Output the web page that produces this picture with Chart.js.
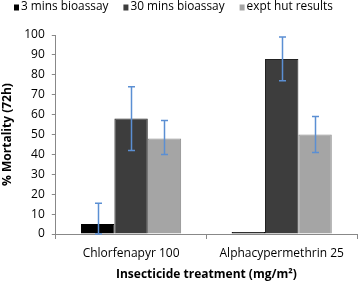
<!DOCTYPE html>
<html lang="en">
<head>
<meta charset="UTF-8">
<title>Mortality chart</title>
<style>
    html, body { margin: 0; padding: 0; background: #fff; }
    #wrap { width: 358px; height: 281px; }
</style>
</head>
<body>
<div id="wrap"><canvas id="chart"></canvas></div>
<script src="https://cdn.jsdelivr.net/npm/chart.js"></script>
<script>
    const categories = ['Chlorfenapyr 100', 'Alphacypermethrin 25'];
    const seriesNames = ['3 mins bioassay', '30 mins bioassay', 'expt hut results'];
    const mins3 = [5, 1];
    const mins30 = [58, 88];
    const hut = [48, 50];
    // error bar low / high
    const mins3Err = [[0, 15.5], null];
    const mins30Err = [[42, 74], [77, 99]];
    const hutErr = [[40, 57], [41, 59]];
    const yTicks = [0, 10, 20, 30, 40, 50, 60, 70, 80, 90, 100];

    const errs = [mins3Err, mins30Err, hutErr];

    const errorBars = {
        id: 'errorBars',
        afterDatasetsDraw(chart) {
            const ctx = chart.ctx;
            const y = chart.scales.y;
            ctx.save();
            ctx.strokeStyle = '#5b8fd3';
            ctx.lineWidth = 1.5;
            chart.data.datasets.forEach((ds, i) => {
                const meta = chart.getDatasetMeta(i);
                meta.data.forEach((bar, j) => {
                    const e = errs[i][j];
                    if (!e) return;
                    const x = Math.round(bar.x) + 0.5;
                    const y1 = y.getPixelForValue(e[0]);
                    const y2 = y.getPixelForValue(e[1]);
                    ctx.beginPath();
                    ctx.moveTo(x, y1); ctx.lineTo(x, y2);
                    ctx.moveTo(x - 3.5, y1); ctx.lineTo(x + 3.5, y1);
                    ctx.moveTo(x - 3.5, y2); ctx.lineTo(x + 3.5, y2);
                    ctx.stroke();
                });
            });
            ctx.restore();
        }
    };

    // legend row along the top, stretched to span a fixed width
    const topLegend = {
        id: 'topLegend',
        afterDraw(chart) {
            const ctx = chart.ctx;
            const labels = chart.data.datasets.map(d => d.label);
            const left = 14, right = 333, box = 5, gapText = 2, gapItem = 15;
            ctx.save();
            ctx.font = '13px "Open Sans", sans-serif';
            let textW = labels.reduce((s, l) => s + ctx.measureText(l).width, 0);
            const room = right - left - labels.length * (box + gapText) - (labels.length - 1) * gapItem;
            const size = 13 * room / textW;
            ctx.font = size.toFixed(2) + 'px "Open Sans", sans-serif';
            ctx.textBaseline = 'middle';
            let x = left;
            const yMid = 7;
            chart.data.datasets.forEach((ds) => {
                ctx.fillStyle = ds.backgroundColor;
                ctx.fillRect(x, yMid - 2.5, box, 6);
                ctx.fillStyle = '#000';
                ctx.fillText(ds.label, x + box + gapText, yMid);
                x += box + gapText + ctx.measureText(ds.label).width + gapItem;
            });
            ctx.restore();
        }
    };

    Chart.defaults.font.family = '"Open Sans", sans-serif';
    Chart.defaults.color = '#000';

    new Chart(document.getElementById('chart'), {
        type: 'bar',
        data: {
            labels: categories,
            datasets: [
                { label: seriesNames[0], data: mins3, backgroundColor: '#000', borderColor: '#000', borderWidth: 1 },
                { label: seriesNames[1], data: mins30, backgroundColor: '#3d3d3d', borderColor: '#222', borderWidth: 1 },
                { label: seriesNames[2], data: hut, backgroundColor: '#a5a5a5', borderColor: '#8a8a8a', borderWidth: 1 }
            ]
        },
        options: {
            responsive: true,
            maintainAspectRatio: false,
            animation: false,
            layout: { padding: { left: 0, right: 1, top: 35, bottom: 0 } },
            datasets: { bar: { categoryPercentage: 0.665, barPercentage: 1 } },
            plugins: {
                legend: { display: false },
                tooltip: { enabled: false }
            },
            scales: {
                x: {
                    grid: { display: true, drawOnChartArea: false, offset: true, tickLength: 5, color: '#888' },
                    border: { color: '#888' },
                    ticks: { font: { size: 12, lineHeight: 1 }, padding: 9 },
                    title: { display: true, text: 'Insecticide treatment (mg/m²)', font: { size: 12, weight: 'bold', lineHeight: 1 }, padding: { top: 0, bottom: 0 } }
                },
                y: {
                    min: 0, max: 100,
                    afterBuildTicks: (axis) => { axis.ticks = yTicks.map(v => ({ value: v })); },
                    grid: { display: true, drawOnChartArea: false, tickLength: 4, color: '#888' },
                    border: { color: '#888' },
                    ticks: { font: { size: 12 }, padding: 7, autoSkip: false },
                    title: { display: true, text: '% Mortality (72h)', font: { size: 12, weight: 'bold', lineHeight: 1.1 }, padding: { top: 1, bottom: 3 } }
                }
            }
        },
        plugins: [errorBars, topLegend]
    });
</script>
</body>
</html>
